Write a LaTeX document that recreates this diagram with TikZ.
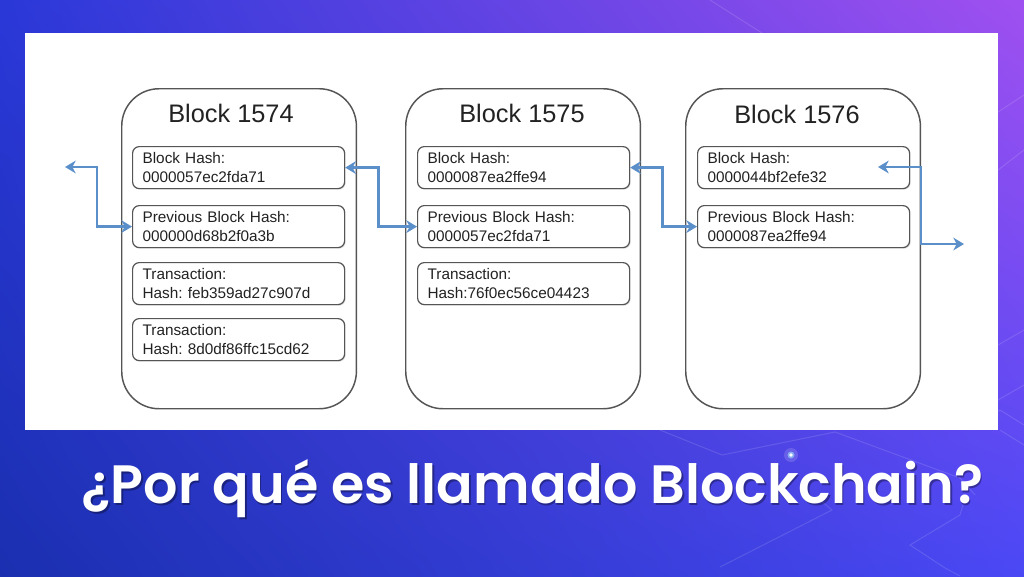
\documentclass[tikz,border=0pt]{standalone}
\usepackage{fontspec}
\setmainfont{Liberation Sans}
\newfontfamily\popfont{Poppins SemiBold}
\usetikzlibrary{arrows.meta,shadows,calc,shadings}
\definecolor{arrowblue}{HTML}{5B8FC9}
\definecolor{bgTL}{HTML}{2A38D8}
\definecolor{bgTR}{HTML}{A050F0}
\definecolor{bgBL}{HTML}{1A2FB0}
\definecolor{bgBR}{HTML}{4A48F5}
\definecolor{edgegray}{HTML}{555555}
\definecolor{txtdark}{HTML}{222222}
\tikzset{
  blockbox/.style={draw=edgegray, line width=1.1pt, rounded corners=28pt,
    minimum width=176pt, minimum height=240pt, anchor=north west, inner sep=0pt, fill=white},
  blocktitle/.style={font=\fontsize{19}{22}\selectfont, text=txtdark, inner sep=0pt},
  hashbox/.style={draw=edgegray, line width=0.9pt, rounded corners=5pt, fill=white,
    minimum height=31.5pt, anchor=north west, text width=144pt, inner xsep=7.5pt, inner ysep=0pt,
    align=left, font=\fontsize{11.5}{14.25}\selectfont\frenchspacing, text=txtdark,
    drop shadow={opacity=0.25, shadow xshift=0.8pt, shadow yshift=-0.8pt}},
  linkarrow/.style={draw=arrowblue, line width=2.1pt,
    {Stealth[length=8pt,width=9.5pt,inset=2.5pt]}-{Stealth[length=8pt,width=9.5pt,inset=2.5pt]}},
  decoline/.style={draw=white, opacity=0.12, line width=0.8pt}
}
\begin{document}
\begin{tikzpicture}[x=0.75pt,y=-0.75pt]
\useasboundingbox (0,0) rectangle (1024,576);
% background
\shade[shading=bilinear interpolation, upper left=bgTL, upper right=bgTR, lower left=bgBL, lower right=bgBR] (0,0) rectangle (1024,576);
% decorative faint lines
\draw[decoline] (710,0) -- (762,33);
\draw[decoline] (1024,95) -- (998,112);
\draw[decoline] (998,170) -- (1024,150);
\draw[decoline] (998,345) -- (1024,330);
\draw[decoline] (998,400) -- (1024,385);
\draw[decoline] (970,430) -- (1000,410) -- (1024,425);
\draw[decoline] (660,430) -- (722,455) -- (835,432) -- (960,478) -- (975,495);
\draw[decoline] (720,567) -- (832,510) -- (820,500);
\draw[decoline] (963,505) -- (960,515) -- (910,545) -- (945,568) -- (960,576);
\draw[decoline] (1000,430) -- (1024,445);
% glow dot
\fill[white, opacity=0.15] (791,455) circle (7);
\fill[cyan!40!white, opacity=0.6] (791,455) circle (3.5);
\fill[white] (791,455) circle (1.8);
% white panel
\fill[white] (25,33) rectangle (998,430);
% blocks
\node[blockbox] (b1) at (121,88) {};
\node[blockbox] (b2) at (405,88) {};
\node[blockbox] (b3) at (685,88) {};
\node[blocktitle] (t1) at (231,113) {Block 1574};
\node[blocktitle] (t2) at (522,113) {Block 1575};
\node[blocktitle] (t3) at (797,114) {Block 1576};
% block 1574 contents
\node[hashbox] (h1) at (132,146) {Block Hash:\\0000057ec2fda71};
\node[hashbox] (p1) at (132,205) {Previous Block Hash:\\000000d68b2f0a3b};
\node[hashbox] (x1) at (132,262) {Transaction:\\Hash: feb359ad27c907d};
\node[hashbox] (y1) at (132,318) {Transaction:\\Hash: 8d0df86ffc15cd62};
% block 1575 contents
\node[hashbox] (h2) at (417,146) {Block Hash:\\0000087ea2ffe94};
\node[hashbox] (p2) at (417,205) {Previous Block Hash:\\0000057ec2fda71};
\node[hashbox] (x2) at (417,262) {Transaction:\\Hash:76f0ec56ce04423};
% block 1576 contents
\node[hashbox] (h3) at (697,146) {Block Hash:\\0000044bf2efe32};
\node[hashbox] (p3) at (697,205) {Previous Block Hash:\\0000087ea2ffe94};
% connectors
\coordinate (L) at (65,167);
\coordinate (Rt) at (878,167);
\coordinate (R) at (964,244);
\draw[linkarrow] (L) -- ++(32,0) |- (p1.west);
\draw[linkarrow] (h1.east) -- ++(33,0) |- (p2.west);
\draw[linkarrow] (h2.east) -- ++(32,0) |- (p3.west);
\draw[linkarrow] (Rt) -| ($(R)+(-43,0)$) -- (R);
% banner title
\node[anchor=base west, font=\popfont\fontsize{40.5}{46}\selectfont, text=black, opacity=0.35] (titleshadow) at (78.5,505) {¿Por qué es llamado Blockchain?};
\node[anchor=base west, font=\popfont\fontsize{40.5}{46}\selectfont, text=white] (title) at (77,503) {¿Por qué es llamado Blockchain?};
\end{tikzpicture}
\end{document}
